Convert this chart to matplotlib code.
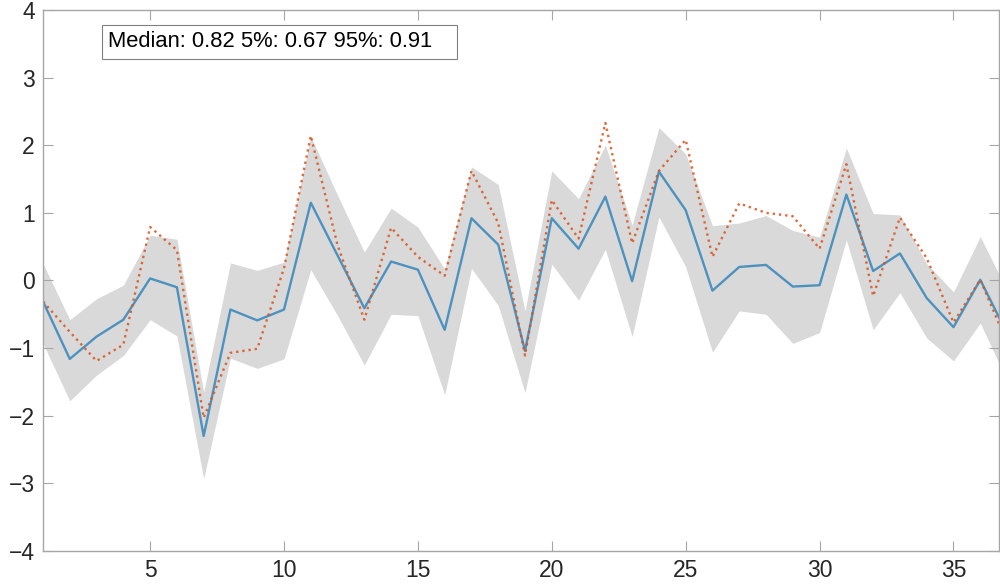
import numpy as np
import matplotlib
matplotlib.use('Agg')
import matplotlib.pyplot as plt
from matplotlib.patches import Rectangle

plt.rcParams['font.family'] = ['Liberation Sans', 'DejaVu Sans']

# Forecast median, 5-95% band and realised series, one value per period
periods = list(range(1, 38))
median = [-0.31, -1.16, -0.83, -0.58, 0.03, -0.10, -2.30, -0.43, -0.59, -0.43,
          1.15, 0.37, -0.41, 0.28, 0.16, -0.73, 0.92, 0.53, -1.04, 0.92,
          0.47, 1.24, -0.01, 1.61, 1.04, -0.15, 0.20, 0.23, -0.09, -0.07,
          1.27, 0.14, 0.40, -0.26, -0.69, 0.01, -0.78]
actual = [-0.31, -0.76, -1.19, -0.95, 0.79, 0.45, -2.03, -1.07, -1.01, 0.18,
          2.14, 0.52, -0.58, 0.78, 0.35, 0.07, 1.62, 0.85, -1.11, 1.19,
          0.62, 2.33, 0.55, 1.62, 2.08, 0.35, 1.14, 1.00, 0.95, 0.47,
          1.72, -0.23, 0.93, 0.33, -0.62, 0.01, -0.92]
upper = [0.25, -0.58, -0.27, -0.07, 0.67, 0.61, -1.65, 0.26, 0.15, 0.27,
         2.13, 1.26, 0.42, 1.07, 0.79, 0.17, 1.68, 1.42, -0.45, 1.62,
         1.21, 2.00, 0.82, 2.26, 1.87, 0.81, 0.85, 0.96, 0.74, 0.64,
         1.96, 0.99, 0.97, 0.25, -0.17, 0.65, -0.15]
lower = [-0.93, -1.78, -1.40, -1.11, -0.58, -0.82, -2.93, -1.15, -1.30, -1.16,
         0.16, -0.52, -1.25, -0.50, -0.52, -1.69, 0.18, -0.37, -1.66, 0.24,
         -0.29, 0.46, -0.83, 0.94, 0.20, -1.06, -0.45, -0.50, -0.93, -0.77,
         0.60, -0.73, -0.18, -0.85, -1.19, -0.63, -1.48]
stats_label = 'Median: 0.82 5%: 0.67 95%: 0.91'

fig = plt.figure(figsize=(10, 5.88), dpi=100)
ax = fig.add_axes([0.043, 0.063, 0.956, 0.92])

ax.fill_between(periods, lower, upper, color='#d9d9d9', linewidth=0)
ax.plot(periods, median, color='#4d92bf', linewidth=1.7)
ax.plot(periods, actual, color='#d95319', linewidth=1.7, linestyle=':', alpha=0.85)

ax.set_xlim(1, 36.7)
ax.set_ylim(-4, 4)
ax.set_xticks([5, 10, 15, 20, 25, 30, 35])
ax.set_yticks(np.arange(-4, 5, 1))

axis_grey = '#a6a6a6'
for s in ax.spines.values():
    s.set_color(axis_grey)
    s.set_linewidth(1.0)
ax.tick_params(direction='in', length=7, width=0.8, color=axis_grey,
               top=True, right=True, labelsize=16.5, labelcolor='#262626', pad=6)

# annotation box with the summary statistics
ax.add_patch(Rectangle((0.062, 0.909), 0.371, 0.063, transform=ax.transAxes,
                       facecolor='white', edgecolor='#808080', linewidth=0.8, zorder=5))
ax.text(0.068, 0.941, stats_label, transform=ax.transAxes, fontsize=15.8,
        va='center', ha='left', color='black', zorder=6)

fig.savefig('out.png', dpi=100)
